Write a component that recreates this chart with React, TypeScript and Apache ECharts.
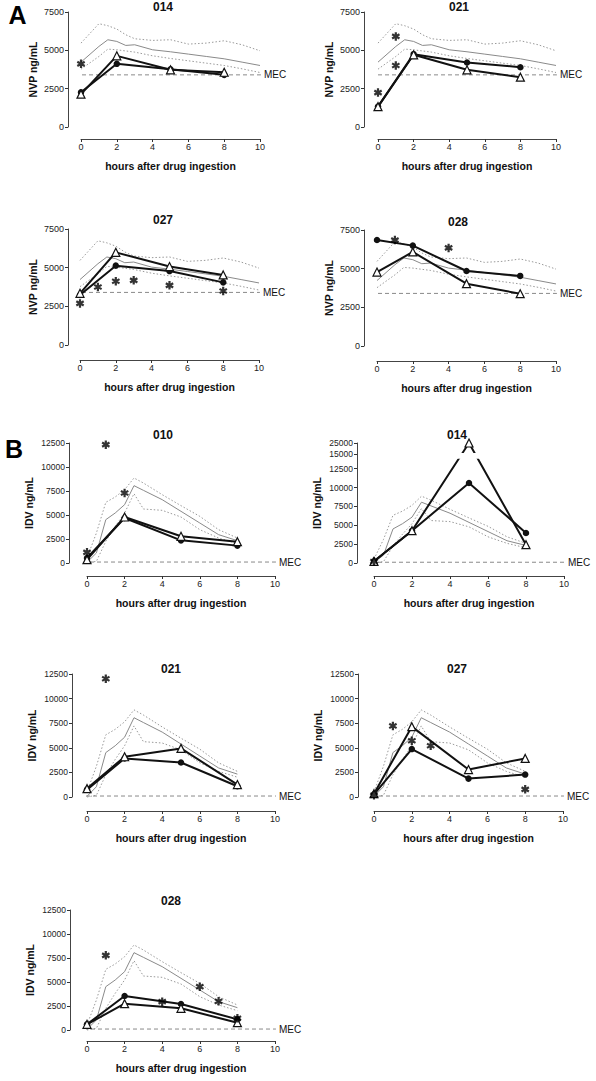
import React, { useEffect, useRef } from "react";
import * as echarts from "echarts";

const FONT = "'Liberation Sans', Arial, Helvetica, sans-serif";

// sampling times (hours after drug ingestion)
const HOURS = [0, 2, 5, 8];

// minimum effective concentrations
const NVP_MEC = 3400;
const IDV_MEC = 100;

// population reference curves (NVP): mean (solid) and range (dotted)
const NVP_REF_X = [0, 1, 1.5, 2, 2.5, 3, 4, 5, 6, 7, 8, 9, 10];
const NVP_REF_MEAN = [4230, 5254, 5690, 5581, 5320, 5363, 5036, 4905, 4753, 4600, 4448, 4230, 4012];
const NVP_REF_UPPER = [5472, 6737, 6606, 6388, 6017, 5756, 5647, 5690, 5407, 5472, 5625, 5363, 4971];
const NVP_REF_LOWER = [3772, 4600, 5080, 5036, 4960, 4884, 4644, 4469, 4317, 4164, 4012, 3794, 3554];

// population reference curves (IDV)
const IDV_REF_X = [0, 0.5, 1, 1.5, 2, 2.5, 3, 4, 5, 6, 7, 8];
const IDV_REF_MEAN = [70, 1042, 4514, 5208, 6076, 8056, 7569, 6597, 5382, 4167, 2951, 2326];
const IDV_REF_UPPER = [521, 3125, 6319, 6875, 7639, 8854, 8333, 7118, 5972, 4861, 3472, 2604];
const IDV_REF_LOWER = [0, 174, 2257, 3819, 5208, 7222, 5625, 5486, 4792, 3472, 2604, 2014];

// patient data: filled circles, open triangles, asterisks
const NVP_014_CIRCLE = [2270, 4120, 3770, 3400];
const NVP_014_TRIANGLE = [2140, 4640, 3730, 3570];
const NVP_014_STAR_X = [0];
const NVP_014_STAR_Y = [4120];

const NVP_021_CIRCLE = [1330, 4750, 4210, 3900];
const NVP_021_TRIANGLE = [1330, 4710, 3730, 3250];
const NVP_021_STAR_X = [0, 1, 1];
const NVP_021_STAR_Y = [2245, 5908, 4012];

const NVP_027_CIRCLE = [3230, 5130, 4780, 4050];
const NVP_027_TRIANGLE = [3340, 5990, 5070, 4530];
const NVP_027_STAR_X = [0, 1, 2, 3, 5, 8];
const NVP_027_STAR_Y = [2690, 3750, 4120, 4180, 3860, 3490];

const NVP_028_CIRCLE = [6850, 6490, 4850, 4530];
const NVP_028_TRIANGLE = [4780, 6080, 4030, 3380];
const NVP_028_STAR_X = [1, 4];
const NVP_028_STAR_Y = [6850, 6340];

const IDV_010_CIRCLE = [520, 4690, 2360, 1810];
const IDV_010_TRIANGLE = [350, 4790, 2780, 2220];
const IDV_010_STAR_X = [0, 1, 2];
const IDV_010_STAR_Y = [1110, 12330, 7290];

const IDV_014_CIRCLE = [220, 4280, 10600, 3980];
const IDV_014_TRIANGLE = [220, 4280, 25000, 2430];
const IDV_014_STAR_X = [0];
const IDV_014_STAR_Y = [200];

const IDV_021_CIRCLE = [750, 3920, 3510, 1090];
const IDV_021_TRIANGLE = [850, 4090, 4940, 1260];
const IDV_021_STAR_X = [1];
const IDV_021_STAR_Y = [12020];

const IDV_027_CIRCLE = [270, 4870, 1870, 2280];
const IDV_027_TRIANGLE = [340, 7150, 2790, 3920];
const IDV_027_STAR_X = [0, 1, 2, 3, 8];
const IDV_027_STAR_Y = [170, 7220, 5720, 5210, 780];

const IDV_028_CIRCLE = [590, 3540, 2710, 1110];
const IDV_028_TRIANGLE = [590, 2740, 2260, 760];
const IDV_028_STAR_X = [1, 4, 6, 7, 8];
const IDV_028_STAR_Y = [7780, 2950, 4510, 2990, 1220];

// y tick labels
const NVP_TICKS = [0, 2500, 5000, 7500];
const IDV_TICKS = [0, 2500, 5000, 7500, 10000, 12500];
const IDV_BROKEN_TICKS = [0, 2500, 5000, 7500, 10000, 12500, 15000, 25000];

// broken axis mapping (panel B 014): 0..12500 linear, 15000..25000 compressed
const BREAK_LOW = 12500;
const BREAK_UPPER_FROM = 15000;
const BREAK_UPPER_POS = 14443;
const BREAK_UPPER_SCALE = 0.1458;
const brk = (v: number) =>
  v <= BREAK_LOW ? v : BREAK_UPPER_POS + (v - BREAK_UPPER_FROM) * BREAK_UPPER_SCALE;
const BREAK_GAP = [13800, 14580];

const STAR =
  "path://M-1.3,-5L1.3,-5L1.3,5L-1.3,5Z M3.68,-3.63L4.98,-1.38L-3.68,3.63L-4.98,1.38Z M-4.98,-1.38L-3.68,-3.63L4.98,1.38L3.68,3.63Z";

type Panel = {
  title: string;
  drug: "NVP" | "IDV";
  circle: number[];
  triangle: number[];
  starX: number[];
  starY: number[];
  box: number[]; // left, top, right, bottom of plotting area
  yOff: number;
  xOff: number;
  titlePos: number[];
  broken?: boolean;
};

const PANELS: Panel[] = [
  { title: "014", drug: "NVP", circle: NVP_014_CIRCLE, triangle: NVP_014_TRIANGLE, starX: NVP_014_STAR_X, starY: NVP_014_STAR_Y, box: [81, 12, 260, 127], yOff: 13, xOff: 12, titlePos: [163, 7] },
  { title: "021", drug: "NVP", circle: NVP_021_CIRCLE, triangle: NVP_021_TRIANGLE, starX: NVP_021_STAR_X, starY: NVP_021_STAR_Y, box: [378, 12, 556, 127], yOff: 14, xOff: 12, titlePos: [459, 7] },
  { title: "027", drug: "NVP", circle: NVP_027_CIRCLE, triangle: NVP_027_TRIANGLE, starX: NVP_027_STAR_X, starY: NVP_027_STAR_Y, box: [80, 229, 259, 345], yOff: 12, xOff: 15, titlePos: [163, 220] },
  { title: "028", drug: "NVP", circle: NVP_028_CIRCLE, triangle: NVP_028_TRIANGLE, starX: NVP_028_STAR_X, starY: NVP_028_STAR_Y, box: [377, 230, 556, 346], yOff: 13, xOff: 15, titlePos: [458, 222] },
  { title: "010", drug: "IDV", circle: IDV_010_CIRCLE, triangle: IDV_010_TRIANGLE, starX: IDV_010_STAR_X, starY: IDV_010_STAR_Y, box: [87, 443, 275, 563], yOff: 18, xOff: 13, titlePos: [163, 435] },
  { title: "014", drug: "IDV", circle: IDV_014_CIRCLE, triangle: IDV_014_TRIANGLE, starX: IDV_014_STAR_X, starY: IDV_014_STAR_Y, box: [374, 443, 564, 563], yOff: 17, xOff: 13, titlePos: [457, 435], broken: true },
  { title: "021", drug: "IDV", circle: IDV_021_CIRCLE, triangle: IDV_021_TRIANGLE, starX: IDV_021_STAR_X, starY: IDV_021_STAR_Y, box: [87, 674, 275, 797], yOff: 15, xOff: 14, titlePos: [171, 669] },
  { title: "027", drug: "IDV", circle: IDV_027_CIRCLE, triangle: IDV_027_TRIANGLE, starX: IDV_027_STAR_X, starY: IDV_027_STAR_Y, box: [374, 674, 563, 797], yOff: 16, xOff: 14, titlePos: [457, 669] },
  { title: "028", drug: "IDV", circle: IDV_028_CIRCLE, triangle: IDV_028_TRIANGLE, starX: IDV_028_STAR_X, starY: IDV_028_STAR_Y, box: [87, 910, 275, 1030], yOff: 17, xOff: 11, titlePos: [171, 901] },
];

function buildOption() {
  const grid: any[] = [];
  const xAxis: any[] = [];
  const yAxis: any[] = [];
  const series: any[] = [];
  const graphic: any[] = [];
  const nameStyle = { fontFamily: FONT, fontWeight: "bold", fontSize: 10.5, color: "#111" };
  const axisLine = { onZero: false, lineStyle: { color: "#444", width: 1 } };

  PANELS.forEach((p, i) => {
    const nvp = p.drug === "NVP";
    const [x0, y0, x1, y1] = p.box;
    const tf = p.broken ? brk : (v: number) => v;
    grid.push({ left: x0, top: y0, width: x1 - x0, height: y1 - y0, containLabel: false, outerBoundsMode: "none" });

    xAxis.push({
      gridIndex: i, type: "value", min: 0, max: 10, interval: 2, offset: p.xOff,
      name: "hours after drug ingestion", nameLocation: "middle", nameGap: 21, nameTextStyle: nameStyle,
      axisLine, axisTick: { length: 3, lineStyle: { color: "#333" } },
      axisLabel: { fontFamily: FONT, fontSize: 9, color: "#222", margin: 3 },
      splitLine: { show: false },
    });

    const ticks = nvp ? NVP_TICKS : p.broken ? IDV_BROKEN_TICKS : IDV_TICKS;
    const tickPos = ticks.map(tf);
    yAxis.push({
      gridIndex: i, type: "value", min: 0, max: tickPos[tickPos.length - 1], offset: p.yOff,
      name: nvp ? "NVP ng/mL" : "IDV ng/mL", nameLocation: "middle", nameGap: nvp ? 30 : 35, nameRotate: 90,
      nameTextStyle: nameStyle,
      axisLine,
      axisTick: { length: 3, lineStyle: { color: "#333" }, customValues: tickPos },
      axisLabel: {
        fontFamily: FONT, fontSize: nvp ? 9 : 8.5, color: "#222", margin: 4, customValues: tickPos,
        formatter: (v: number) => {
          let best = 0;
          tickPos.forEach((t, k) => { if (Math.abs(t - v) < Math.abs(tickPos[best] - v)) best = k; });
          return String(ticks[best]);
        },
      },
      splitLine: { show: false },
    });

    const common = { xAxisIndex: i, yAxisIndex: i, silent: true, clip: false, animation: false };
    const pairs = (xs: number[], ys: number[]) => xs.map((x, k) => [x, tf(ys[k])]);
    const refX = nvp ? NVP_REF_X : IDV_REF_X;

    series.push({ ...common, type: "line", color: "#9a9a9a", data: pairs(refX, nvp ? NVP_REF_UPPER : IDV_REF_UPPER), symbol: "none", lineStyle: { color: "#9a9a9a", width: 1, type: [1.5, 2] }, z: 1 });
    series.push({ ...common, type: "line", color: "#9a9a9a", data: pairs(refX, nvp ? NVP_REF_LOWER : IDV_REF_LOWER), symbol: "none", lineStyle: { color: "#9a9a9a", width: 1, type: [1.5, 2] }, z: 1 });
    series.push({ ...common, type: "line", color: "#8a8a8a", data: pairs(refX, nvp ? NVP_REF_MEAN : IDV_REF_MEAN), symbol: "none", lineStyle: { color: "#8a8a8a", width: 1 }, z: 1 });

    const mec = nvp ? NVP_MEC : IDV_MEC;
    const xStart = -p.yOff / ((x1 - x0) / 10);
    series.push({
      ...common, type: "line", color: "#111", data: [[xStart, tf(mec)], [10.05, tf(mec)]], symbol: "none",
      lineStyle: { color: "#8a8a8a", width: 1, type: [4, 3] }, itemStyle: { color: "#111" }, z: 1,
      endLabel: { show: true, formatter: "MEC", fontFamily: FONT, fontSize: 10, color: "#111", textBorderWidth: 0, distance: 3 },
    });

    series.push({
      ...common, type: "line", color: "#111", data: pairs(HOURS, p.circle), symbol: "circle", symbolSize: 6.5,
      showSymbol: true, showAllSymbol: true,
      lineStyle: { color: "#111", width: 2 },
      itemStyle: { color: "#111" }, z: 3,
    });
    series.push({
      ...common, type: "line", color: "#111", data: pairs(HOURS, p.triangle), symbol: "triangle", symbolSize: 8,
      showSymbol: true, showAllSymbol: true,
      lineStyle: { color: "#111", width: 2 },
      itemStyle: { color: "#fff", borderColor: "#111", borderWidth: 1.2 }, z: 4,
    });
    series.push({
      ...common, type: "scatter", color: "#000", data: pairs(p.starX, p.starY), symbol: STAR, symbolSize: 8.5,
      itemStyle: { color: "#000" }, z: 6,
    });

    if (p.broken) {
      series.push({
        ...common, type: "line", color: "#fff", data: [[0, 0]], symbol: "none", lineStyle: { width: 0, opacity: 0 }, z: 8,
        markArea: { silent: true, z: 10, itemStyle: { color: "#fff" }, data: [[{ yAxis: BREAK_GAP[0] }, { yAxis: BREAK_GAP[1] }]] },
      });
    }

    graphic.push({
      type: "text", x: p.titlePos[0], y: p.titlePos[1],
      style: { text: p.title, font: `bold 12px ${FONT}`, fill: "#111", align: "center", verticalAlign: "middle" },
    });
  });

  graphic.push({ type: "text", x: 17.5, y: 15, style: { text: "A", font: `bold 25px ${FONT}`, fill: "#000", align: "center", verticalAlign: "middle" } });
  graphic.push({ type: "text", x: 14, y: 449, style: { text: "B", font: `bold 25px ${FONT}`, fill: "#000", align: "center", verticalAlign: "middle" } });

  return { animation: false, backgroundColor: "#fff", color: ["#111"], grid, xAxis, yAxis, series, graphic };
}

export default function App() {
  const ref = useRef<HTMLDivElement>(null);
  useEffect(() => {
    if (!ref.current) return;
    const chart = echarts.init(ref.current, undefined, { renderer: "svg" });
    chart.setOption(buildOption() as any);
    return () => chart.dispose();
  }, []);
  return (
    <div
      ref={ref}
      style={{ position: "absolute", left: 0, top: 0, width: 596, height: 1081, background: "#fff" }}
    />
  );
}
